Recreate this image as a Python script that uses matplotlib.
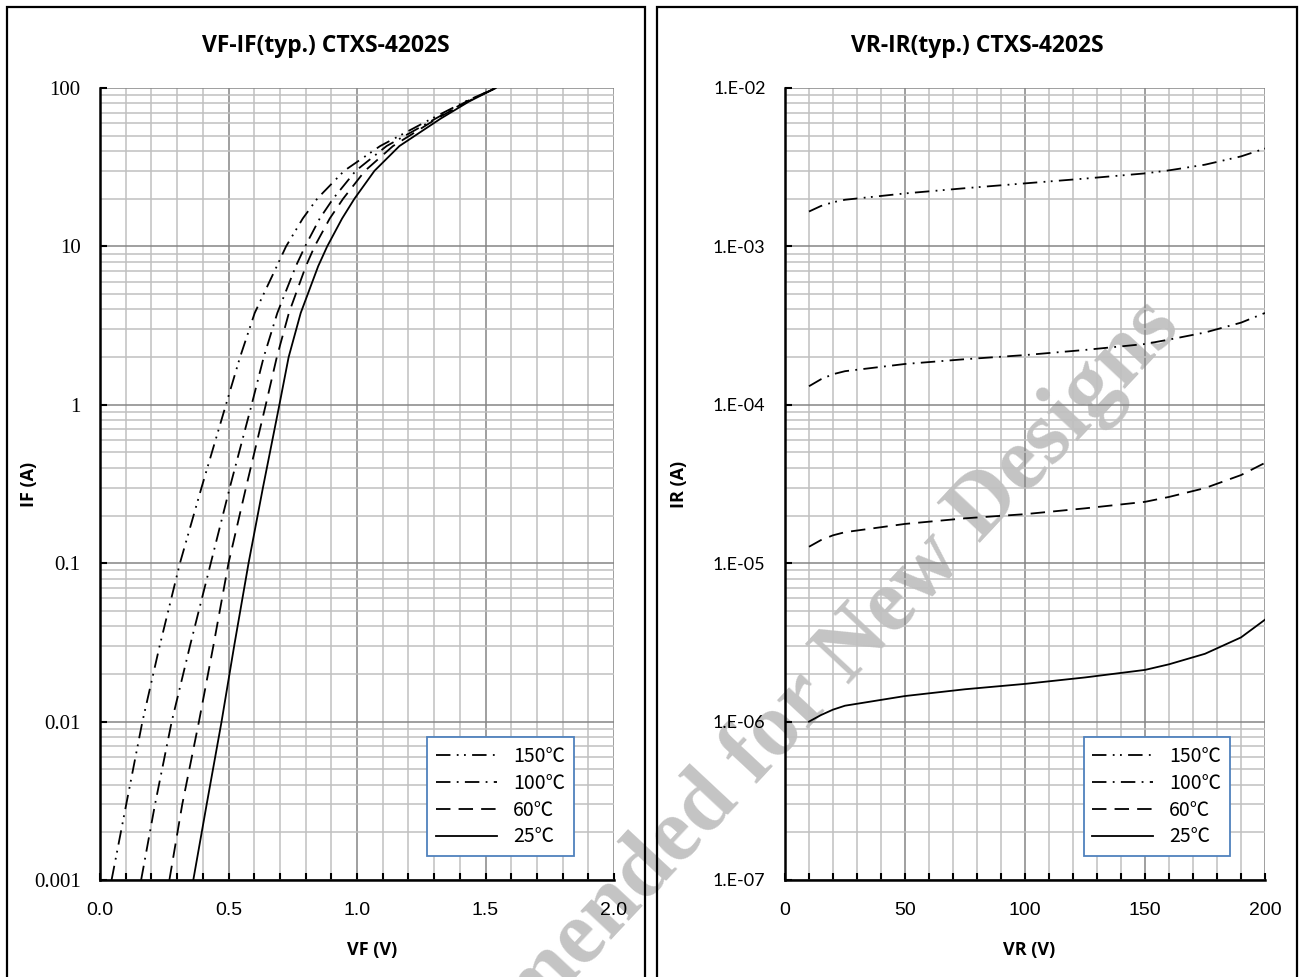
import matplotlib
matplotlib.use('Agg')
import matplotlib.pyplot as plt
from matplotlib.patches import Rectangle
from matplotlib.ticker import MultipleLocator, LogLocator, NullFormatter

# VF-IF (typ.)
if_a = [0.001, 0.003, 0.01, 0.03, 0.1, 0.3, 1, 2, 3.8, 7.5, 10, 15, 20, 30, 43, 64, 82, 100]
vf_150 = [0.045, 0.102, 0.165, 0.232, 0.311, 0.395, 0.490, 0.545, 0.602, 0.688, 0.724, 0.789, 0.845,
          0.950, 1.090, 1.290, 1.420, 1.540]
vf_100 = [0.160, 0.214, 0.279, 0.350, 0.431, 0.505, 0.590, 0.637, 0.690, 0.762, 0.798, 0.855, 0.907,
          0.995, 1.115, 1.305, 1.425, 1.540]
vf_60 = [0.270, 0.320, 0.385, 0.441, 0.500, 0.568, 0.645, 0.688, 0.735, 0.801, 0.835, 0.894, 0.946,
         1.031, 1.140, 1.310, 1.430, 1.540]
vf_25 = [0.363, 0.415, 0.473, 0.522, 0.578, 0.634, 0.698, 0.734, 0.781, 0.849, 0.884, 0.942, 0.990,
         1.068, 1.165, 1.325, 1.435, 1.540]

# VR-IR (typ.)
vr_v = [10, 15, 20, 25, 50, 75, 100, 125, 150, 160, 175, 190, 200]
ir_150 = [1.66e-3, 1.80e-3, 1.90e-3, 1.97e-3, 2.16e-3, 2.33e-3, 2.50e-3, 2.68e-3, 2.89e-3, 3.02e-3, 3.28e-3,
          3.70e-3, 4.15e-3]
ir_100 = [1.31e-4, 1.45e-4, 1.56e-4, 1.63e-4, 1.81e-4, 1.94e-4, 2.06e-4, 2.22e-4, 2.42e-4, 2.58e-4, 2.86e-4,
          3.30e-4, 3.80e-4]
ir_60 = [1.27e-5, 1.40e-5, 1.50e-5, 1.57e-5, 1.77e-5, 1.92e-5, 2.04e-5, 2.22e-5, 2.44e-5, 2.62e-5, 2.98e-5,
         3.60e-5, 4.30e-5]
ir_25 = [1.00e-6, 1.10e-6, 1.19e-6, 1.26e-6, 1.45e-6, 1.60e-6, 1.73e-6, 1.90e-6, 2.12e-6, 2.30e-6, 2.68e-6,
         3.40e-6, 4.40e-6]

labels = ['150℃', '100℃', '60℃', '25℃']
styles = [(0, (8, 3.5, 1, 3, 1, 3.5)), (0, (8, 3.5, 1, 3.5)), (0, (8, 4.5)), '-']

left_ticks = [0.001, 0.01, 0.1, 1, 10, 100]
left_ticklabels = ['0.001', '0.01', '0.1', '1', '10', '100']
right_ticks = [1e-7, 1e-6, 1e-5, 1e-4, 1e-3, 1e-2]
right_ticklabels = ['1.E-07', '1.E-06', '1.E-05', '1.E-04', '1.E-03', '1.E-02']

W, H = 1301, 977
fig = plt.figure(figsize=(W / 100, H / 100), dpi=100)

# panel frames
for x0, x1 in [(7, 645), (657, 1297)]:
    fig.patches.append(Rectangle((x0 / W, -0.05), (x1 - x0) / W, 1.05 - 7 / H,
                                 transform=fig.transFigure, fill=False,
                                 edgecolor='black', linewidth=1.6))

ax1 = fig.add_axes([100 / W, 97 / H, 514 / W, 792 / H])
ax2 = fig.add_axes([785 / W, 97 / H, 480 / W, 792 / H])


def style_axes(ax, xminor):
    ax.patch.set_alpha(0)
    ax.set_yscale('log')
    ax.yaxis.set_minor_locator(LogLocator(base=10, subs=range(2, 10)))
    ax.yaxis.set_minor_formatter(NullFormatter())
    ax.xaxis.set_minor_locator(MultipleLocator(xminor))
    ax.grid(which='minor', color='#c0c0c0', linewidth=1.1)
    ax.grid(which='major', color='#858585', linewidth=1.1)
    ax.set_axisbelow(True)
    for s in ['top', 'right']:
        ax.spines[s].set_visible(False)
    for s in ['left', 'bottom']:
        ax.spines[s].set_linewidth(1.8)
        ax.spines[s].set_zorder(3)
    ax.tick_params(which='major', direction='in', length=5, width=1.5)
    ax.tick_params(axis='x', which='major', pad=16)
    ax.tick_params(axis='y', which='major', pad=14)
    ax.tick_params(axis='x', which='minor', direction='in', length=5, width=1.5)
    ax.tick_params(axis='y', which='minor', length=0)


# left: VF-IF
for v, lab, ls in zip([vf_150, vf_100, vf_60, vf_25], labels, styles):
    ax1.plot(v, if_a, color='black', linestyle=ls, linewidth=1.3, label=lab)
style_axes(ax1, 0.1)
ax1.set_xlim(0, 2.0)
ax1.set_ylim(0.001, 100)
ax1.set_xticks([0.0, 0.5, 1.0, 1.5, 2.0], ['0.0', '0.5', '1.0', '1.5', '2.0'],
               fontsize=14, family='Liberation Sans')
ax1.set_yticks(left_ticks, left_ticklabels, fontsize=15, family='Liberation Serif')
ax1.set_xlabel('VF (V)', fontsize=13, fontweight='bold', family='Open Sans')
ax1.xaxis.set_label_coords(0.529, -0.077)
ax1.set_ylabel('IF (A)', fontsize=13, fontweight='bold', family='Open Sans')
ax1.yaxis.set_label_coords(-0.1206, 0.5)

# right: VR-IR
for v, lab, ls in zip([ir_150, ir_100, ir_60, ir_25], labels, styles):
    ax2.plot(vr_v, v, color='black', linestyle=ls, linewidth=1.3, label=lab)
style_axes(ax2, 10)
ax2.set_xlim(0, 200)
ax2.set_ylim(1e-7, 1e-2)
ax2.set_xticks([0, 50, 100, 150, 200], ['0', '50', '100', '150', '200'],
               fontsize=14, family='Liberation Sans')
ax2.set_yticks(right_ticks, right_ticklabels, fontsize=13, family='Lato')
ax2.set_xlabel('VR (V)', fontsize=13, fontweight='bold', family='Open Sans')
ax2.xaxis.set_label_coords(0.508, -0.077)
ax2.set_ylabel('IR (A)', fontsize=13, fontweight='bold', family='Open Sans')
ax2.yaxis.set_label_coords(-0.202, 0.5)

# titles are centred on the panel frames
fig.text(326 / W, 1 - 46 / H, 'VF-IF(typ.) CTXS-4202S', fontsize=16.5, fontweight='bold',
         family='Open Sans', ha='center', va='center')
fig.text(977 / W, 1 - 46 / H, 'VR-IR(typ.) CTXS-4202S', fontsize=16.5, fontweight='bold',
         family='Open Sans', ha='center', va='center')

for ax, xr in [(ax1, 0.922), (ax2, 0.927)]:
    leg = ax.legend(loc='lower right', bbox_to_anchor=(xr, 0.03), borderaxespad=0,
                    fancybox=False, framealpha=1, edgecolor='#4f81bd',
                    prop={'family': ['Noto Sans CJK JP', 'DejaVu Sans'], 'size': 14},
                    handlelength=3.1, handletextpad=0.85, labelspacing=0.3,
                    borderpad=0.45)
    leg.get_frame().set_linewidth(1.3)
    leg.set_zorder(5)

# watermark, behind the plots
fig.text(1182 / W, 1 - 328 / H, 'Not Recommended for New Designs', fontsize=65,
         family='Liberation Serif', fontweight='bold', color='#c4c4c4',
         rotation=47, rotation_mode='anchor', ha='right', va='baseline', zorder=-1)

fig.savefig('out.png', dpi=100)
